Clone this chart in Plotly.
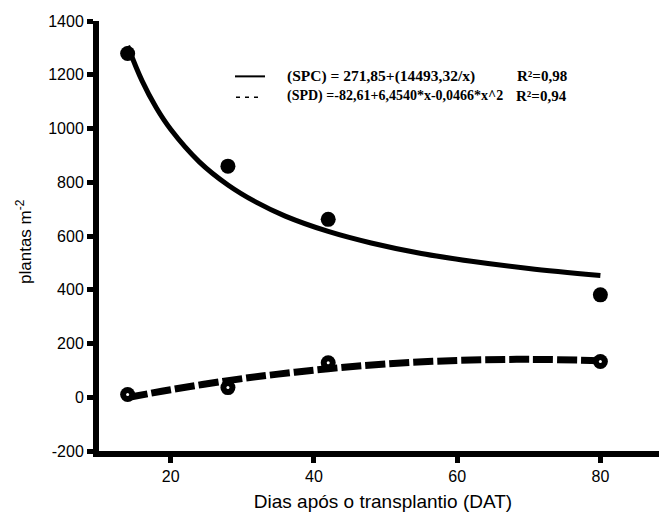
import plotly.graph_objects as go

# Observed data
dat = [14, 28, 42, 80]
spc_obs = [1279, 860, 662, 381]
spd_obs = [10, 36, 128, 133]

# Fitted curves
spc_fit_x = [14, 16, 18, 20, 24, 28, 32, 36, 42, 48, 55, 62, 70, 80]
spc_fit_y = [1307, 1178, 1077, 997, 876, 790, 725, 674, 617, 574, 535, 506, 479, 453]
spd_fit_x = [14, 20, 28, 35, 42, 50, 60, 70, 80]
spd_fit_y = [-1, 28, 62, 86, 106, 124, 137, 141, 136]

x_ticks = [20, 40, 60, 80]
y_ticks = [-200, 0, 200, 400, 600, 800, 1000, 1200, 1400]
y_tick_text = ["-200", "0", "200", "400", "600", "800", "1000", "1200", "1400"]

fig = go.Figure()
fig.add_trace(go.Scatter(x=spc_fit_x, y=spc_fit_y, mode="lines", line_shape="spline",
                         line=dict(color="black", width=5), showlegend=False))
fig.add_trace(go.Scatter(x=spd_fit_x, y=spd_fit_y, mode="lines", line_shape="spline",
                         line=dict(color="black", width=7, dash="20px,4px"), showlegend=False))
fig.add_trace(go.Scatter(x=dat, y=spc_obs, mode="markers",
                         marker=dict(color="black", size=15, symbol="circle"), showlegend=False))
fig.add_trace(go.Scatter(x=dat, y=spd_obs, mode="markers",
                         marker=dict(color="black", size=15, symbol="circle"), showlegend=False))
fig.add_trace(go.Scatter(x=dat, y=spd_obs, mode="markers",
                         marker=dict(color="white", size=3, symbol="circle"), showlegend=False))

# page-pixel -> paper coordinates (plot area spans page x 99..667, y 20.5..451.5)
def paper(px, py):
    return (px - 99) / 568, (451.5 - py) / 431

serif = "Liberation Serif"
anns = []
for txt, px, py, size in [("<b>(SPC) = 271,85+(14493,32/x)</b>", 285, 76, 15.5),
                          ("<b>(SPD) =-82,61+6,4540*x-0,0466*x^2</b>", 285, 96, 14),
                          ("<b>R²=0,98</b>", 515, 76, 15),
                          ("<b>R²=0,94</b>", 514, 96, 15)]:
    xx, yy = paper(px, py)
    anns.append(dict(text=txt, x=xx, y=yy, xref="paper", yref="paper", showarrow=False,
                     xanchor="left", yanchor="middle",
                     font=dict(family=serif, size=size, color="black")))
xx, yy = paper(24, 242)
anns.append(dict(text="plantas m<sup>-2</sup>", x=xx, y=yy, xref="paper", yref="paper",
                 showarrow=False, textangle=-90, xanchor="center", yanchor="middle",
                 font=dict(family="Liberation Sans", size=17, color="black")))

# legend line samples
shapes = []
x0, y0 = paper(235, 76)
x1, _ = paper(265, 76)
shapes.append(dict(type="line", xref="paper", yref="paper", x0=x0, x1=x1, y0=y0, y1=y0,
                   line=dict(color="black", width=2)))
x0, y0 = paper(236, 97)
x1, _ = paper(263, 97)
shapes.append(dict(type="line", xref="paper", yref="paper", x0=x0, x1=x1, y0=y0, y1=y0,
                   line=dict(color="black", width=1.5, dash="4px,5px")))

fig.update_layout(
    width=659, height=516,
    margin=dict(l=91, r=0, t=12.5, b=72.5),
    paper_bgcolor="white", plot_bgcolor="white",
    font=dict(family="Liberation Sans", size=16, color="black"),
    annotations=anns, shapes=shapes,
    xaxis=dict(range=[10, 89.3], tickvals=x_ticks, showgrid=False, zeroline=False,
               showline=True, linecolor="black", linewidth=6,
               ticks="outside", ticklen=6, tickwidth=5, tickcolor="black",
               tickfont=dict(size=16),
               title=dict(text="Dias após o transplantio (DAT)", font=dict(size=19), standoff=12)),
    yaxis=dict(range=[-200, 1400], tickvals=y_ticks, ticktext=y_tick_text,
               showgrid=False, zeroline=False,
               showline=True, linecolor="black", linewidth=6,
               ticks="outside", ticklen=6, tickwidth=5, tickcolor="black",
               tickfont=dict(size=16)),
)
fig.write_html("out.html")
